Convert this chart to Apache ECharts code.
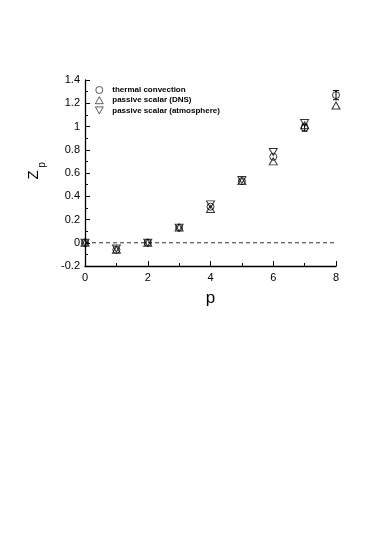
<!DOCTYPE html>
<html><head><meta charset="utf-8">
<script src="https://cdn.jsdelivr.net/npm/echarts@6/dist/echarts.min.js"></script>
<style>html,body{margin:0;padding:0;background:#fff}#c{width:374px;height:537px}</style>
</head><body><div id="c"></div>
<script>
var pValues = [0, 1, 2, 3, 4, 5, 6, 7, 8];
var thermal = [0, -0.06, 0, 0.13, 0.31, 0.53, 0.74, 0.99, 1.27];
var dns = [0, -0.06, 0, 0.13, 0.29, 0.53, 0.70, 1.01, 1.18];
var atmosphere = [0, -0.05, 0, 0.13, 0.33, 0.54, 0.78, 1.03];
var errP = [7, 8];
var errLow = [0.96, 1.23];
var errHigh = [1.02, 1.31];
var seriesNames = ['thermal convection', 'passive scalar (DNS)', 'passive scalar (atmosphere)'];

function pairs(ys){ return ys.map(function(v,i){return [pValues[i], v];}); }
var errData = errP.map(function(p,i){return [p, errLow[i], errHigh[i]];});
var downTri = 'path://M0,0 L10,0 L5,9 Z';
var upTri = 'path://M5,0 L10,9 L0,9 Z';
var sym = {color:'rgba(255,255,255,0)', borderColor:'#000', borderWidth:1};
var FONT = 'Liberation Sans, Arial, sans-serif';

var chart = echarts.init(document.getElementById('c'), null, {renderer:'canvas'});
chart.setOption({
  animation:false,
  backgroundColor:'#fff',
  textStyle:{fontFamily:FONT, color:'#000'},
  grid:{left:85, right:38, top:80, bottom:271, containLabel:false},
  legend:{
    left:95, top:86, padding:0, orient:'vertical', itemGap:2.2, itemWidth:8, itemHeight:7,
    itemStyle:{borderWidth:0.8},
    textStyle:{fontSize:8, fontWeight:'bold', color:'#000', fontFamily:FONT, padding:[0,0,0,4]},
    data:seriesNames
  },
  graphic:[
    {type:'text', x:34, y:175, rotation:Math.PI/2, style:{text:'Z', font:'15px ' + FONT, fill:'#000', align:'center', verticalAlign:'middle'}},
    {type:'text', x:42, y:165, rotation:Math.PI/2, style:{text:'p', font:'10px ' + FONT, fill:'#000', align:'center', verticalAlign:'middle'}}
  ],
  xAxis:{
    type:'value', min:0, max:8, interval:2,
    name:'p', nameLocation:'middle', nameGap:24,
    nameTextStyle:{fontSize:17, color:'#000'},
    axisLine:{onZero:false, lineStyle:{color:'#000', width:1.3}},
    axisTick:{inside:true, length:5, lineStyle:{color:'#000'}},
    minorTick:{show:true, splitNumber:2, length:3, lineStyle:{color:'#000'}},
    axisLabel:{fontSize:11, color:'#000', margin:6},
    splitLine:{show:false}
  },
  yAxis:{
    type:'value', min:-0.2, max:1.4, interval:0.2,
    axisLine:{onZero:false, lineStyle:{color:'#000', width:1.3}},
    axisTick:{inside:true, length:5, lineStyle:{color:'#000'}},
    minorTick:{show:true, splitNumber:2, length:3, lineStyle:{color:'#000'}},
    axisLabel:{fontSize:11, color:'#000', margin:5, formatter:function(v){ return String(Math.round(v*10)/10); }},
    splitLine:{show:false}
  },
  series:[
    {type:'line', data:[[0,0],[8,0]], symbol:'none', silent:true, lineStyle:{color:'#333', width:1, type:[4,3]}, z:1},
    {type:'custom', silent:true, data:errData, z:3,
     renderItem:function(params, api){
       var top = api.coord([api.value(0), api.value(2)]);
       var bot = api.coord([api.value(0), api.value(1)]);
       var w = 3;
       return {type:'group', children:[
         {type:'line', shape:{x1:top[0], y1:top[1], x2:bot[0], y2:bot[1]}, style:{stroke:'#000', lineWidth:1}},
         {type:'line', shape:{x1:top[0]-w, y1:top[1], x2:top[0]+w, y2:top[1]}, style:{stroke:'#000', lineWidth:1}},
         {type:'line', shape:{x1:bot[0]-w, y1:bot[1], x2:bot[0]+w, y2:bot[1]}, style:{stroke:'#000', lineWidth:1}}
       ]};
     }},
    {name:seriesNames[0], type:'scatter', data:pairs(thermal), symbol:'circle', symbolSize:7, itemStyle:sym, z:4},
    {name:seriesNames[1], type:'scatter', data:pairs(dns), symbol:upTri, symbolSize:[8,7], itemStyle:sym, z:4},
    {name:seriesNames[2], type:'scatter', data:pairs(atmosphere), symbol:downTri, symbolSize:[8,7], itemStyle:sym, z:4}
  ]
});
</script></body></html>
